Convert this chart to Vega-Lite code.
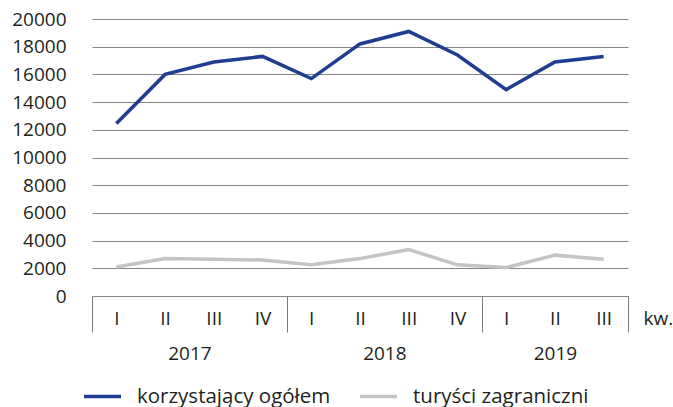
{
  "$schema": "https://vega.github.io/schema/vega-lite/v6.json",
  "width": 536,
  "height": 277,
  "autosize": {"type": "none"},
  "padding": {"left": 92, "top": 19, "right": 45, "bottom": 111},
  "background": "white",
  "config": {
    "view": {"stroke": null},
    "font": "Open Sans",
    "axis": {"labelColor": "#231f20", "titleColor": "#231f20"},
    "legend": {"labelColor": "#231f20"}
  },
  "data": {
    "values": [
      {"nr": 1, "rok": 2017, "kw": "I", "seria": "korzystający ogółem", "wartosc": 12450},
      {"nr": 2, "rok": 2017, "kw": "II", "seria": "korzystający ogółem", "wartosc": 16000},
      {"nr": 3, "rok": 2017, "kw": "III", "seria": "korzystający ogółem", "wartosc": 16900},
      {"nr": 4, "rok": 2017, "kw": "IV", "seria": "korzystający ogółem", "wartosc": 17300},
      {"nr": 5, "rok": 2018, "kw": "I", "seria": "korzystający ogółem", "wartosc": 15700},
      {"nr": 6, "rok": 2018, "kw": "II", "seria": "korzystający ogółem", "wartosc": 18200},
      {"nr": 7, "rok": 2018, "kw": "III", "seria": "korzystający ogółem", "wartosc": 19100},
      {"nr": 8, "rok": 2018, "kw": "IV", "seria": "korzystający ogółem", "wartosc": 17400},
      {"nr": 9, "rok": 2019, "kw": "I", "seria": "korzystający ogółem", "wartosc": 14900},
      {"nr": 10, "rok": 2019, "kw": "II", "seria": "korzystający ogółem", "wartosc": 16900},
      {"nr": 11, "rok": 2019, "kw": "III", "seria": "korzystający ogółem", "wartosc": 17300},
      {"nr": 1, "rok": 2017, "kw": "I", "seria": "turyści zagraniczni", "wartosc": 2100},
      {"nr": 2, "rok": 2017, "kw": "II", "seria": "turyści zagraniczni", "wartosc": 2700},
      {"nr": 3, "rok": 2017, "kw": "III", "seria": "turyści zagraniczni", "wartosc": 2650},
      {"nr": 4, "rok": 2017, "kw": "IV", "seria": "turyści zagraniczni", "wartosc": 2600},
      {"nr": 5, "rok": 2018, "kw": "I", "seria": "turyści zagraniczni", "wartosc": 2250},
      {"nr": 6, "rok": 2018, "kw": "II", "seria": "turyści zagraniczni", "wartosc": 2700},
      {"nr": 7, "rok": 2018, "kw": "III", "seria": "turyści zagraniczni", "wartosc": 3350},
      {"nr": 8, "rok": 2018, "kw": "IV", "seria": "turyści zagraniczni", "wartosc": 2250},
      {"nr": 9, "rok": 2019, "kw": "I", "seria": "turyści zagraniczni", "wartosc": 2050},
      {"nr": 10, "rok": 2019, "kw": "II", "seria": "turyści zagraniczni", "wartosc": 2950},
      {"nr": 11, "rok": 2019, "kw": "III", "seria": "turyści zagraniczni", "wartosc": 2650}
    ]
  },
  "mark": {"type": "line", "strokeWidth": 3.5},
  "encoding": {
    "x": {
      "field": "nr",
      "type": "quantitative",
      "scale": {"domain": [0.5, 11.5], "nice": false, "zero": false},
      "axis": {
        "values": [0.5, 1, 2, 2.5, 3, 4, 4.5, 5, 6, 6.5, 7, 8, 8.5, 9, 10, 11, 11.5],
        "labelExpr": "datum.value == 2.5 ? [' ', '2017'] : datum.value == 6.5 ? [' ', '2018'] : datum.value == 10 ? ['II', '2019'] : (datum.value % 1 == 0 ? ['I','II','III','IV'][(datum.value - 1) % 4] : '')",
        "labelFontSize": 19,
        "labelLineHeight": 35,
        "labelBaseline": "top",
        "labelPadding": -23,
        "labelOverlap": false,
        "labelFlush": false,
        "labelBound": false,
        "ticks": true,
        "tickSize": 36,
        "tickColor": "#7a7a7a",
        "tickWidth": 1,
        "tickOpacity": {"condition": {"test": "datum.value % 4 == 0.5 || datum.value == 11.5", "value": 1}, "value": 0},
        "domain": false,
        "grid": false,
        "title": "kw.",
        "titleFontSize": 19,
        "titleFontWeight": "normal",
        "titleAlign": "left",
        "titleBaseline": "top",
        "titleAnchor": "start",
        "titleX": 551,
        "titleY": 13
      }
    },
    "y": {
      "field": "wartosc",
      "type": "quantitative",
      "scale": {"domain": [0, 20000], "nice": false},
      "axis": {
        "values": [0, 2000, 4000, 6000, 8000, 10000, 12000, 14000, 16000, 18000, 20000],
        "format": "d",
        "labelFontSize": 19,
        "labelPadding": 26,
        "ticks": false,
        "tickSize": 0,
        "domain": false,
        "grid": true,
        "gridColor": "#858585",
        "gridWidth": 1.2,
        "title": null
      }
    },
    "color": {
      "field": "seria",
      "type": "nominal",
      "scale": {"domain": ["korzystający ogółem", "turyści zagraniczni"], "range": ["#1f3d91", "#c4c4c6"]},
      "legend": {
        "title": null,
        "orient": "none",
        "direction": "horizontal",
        "legendX": -10,
        "legendY": 357,
        "symbolType": "stroke",
        "symbolSize": 1369,
        "symbolStrokeWidth": 3.5,
        "labelFontSize": 20.5,
        "labelOffset": 14,
        "columnPadding": 22,
        "labelLimit": 400
      }
    }
  }
}
